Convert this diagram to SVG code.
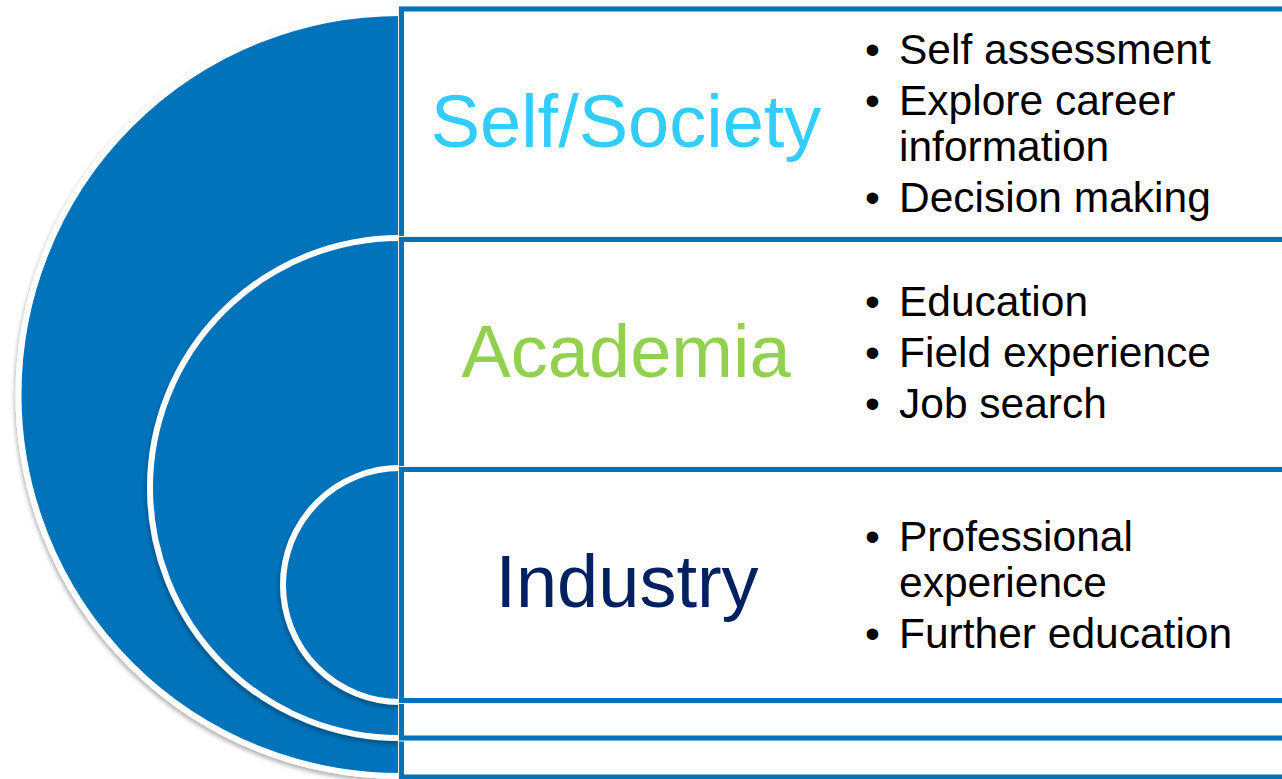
<svg xmlns="http://www.w3.org/2000/svg" width="1282" height="779" viewBox="0 0 1282 779">
  <defs>
    <filter id="shadow" x="-10%" y="-10%" width="120%" height="120%">
      <feDropShadow dx="-1" dy="3" stdDeviation="2" flood-color="#000" flood-opacity="0.3"/>
    </filter>
    <style>
      .disc { fill: #0173BA; }
      .rim { fill: none; stroke: #FFFFFF; stroke-width: 6; }
      .box-edge { fill: none; stroke: #E6F0F8; stroke-width: 7; }
      .box { fill: #FFFFFF; stroke: #0173BA; stroke-width: 5; }
      .title { font-family: "Liberation Sans", Arial, sans-serif; font-size: 74px; text-anchor: middle; }
      .item { font-family: "Liberation Sans", Arial, sans-serif; font-size: 42.5px; fill: #000000; }
    </style>
  </defs>
  <rect width="1282" height="779" fill="#FFFFFF"/>

  <!-- half discs, largest first -->
  <g id="disc-self" filter="url(#shadow)">
    <path class="disc" d="M400,13 A381.5,381.5 0 0 0 400,776 Z"/>
    <path class="rim" d="M400,13 A381.5,381.5 0 0 0 400,776"/>
  </g>
  <g id="disc-academia" filter="url(#shadow)">
    <path class="disc" d="M400,238 A250,250 0 0 0 400,738 Z"/>
    <path class="rim" d="M400,238 A250,250 0 0 0 400,738"/>
  </g>
  <g id="disc-industry" filter="url(#shadow)">
    <path class="disc" d="M400,468 A117,117 0 0 0 400,702 Z"/>
    <path class="rim" d="M400,468 A117,117 0 0 0 400,702"/>
  </g>

  <!-- Self/Society box -->
  <g id="box-self">
    <rect class="box-edge" x="401.5" y="9" width="900" height="768"/>
    <rect class="box" x="401.5" y="9" width="900" height="768"/>
    <text class="title" x="626" y="147" fill="#33CCFF">Self/Society</text>
    <text class="item" x="865" y="64">•</text>
    <text class="item" x="899" y="64">Self assessment</text>
    <text class="item" x="865" y="115">•</text>
    <text class="item" x="899" y="115">Explore career</text>
    <text class="item" x="899" y="161">information</text>
    <text class="item" x="865" y="212">•</text>
    <text class="item" x="899" y="212">Decision making</text>
  </g>

  <!-- Academia box -->
  <g id="box-academia">
    <rect class="box-edge" x="401.5" y="239.5" width="900" height="498.5"/>
    <rect class="box" x="401.5" y="239.5" width="900" height="498.5"/>
    <text class="title" x="626" y="377" fill="#92D050">Academia</text>
    <text class="item" x="865" y="316">•</text>
    <text class="item" x="899" y="316">Education</text>
    <text class="item" x="865" y="367">•</text>
    <text class="item" x="899" y="367">Field experience</text>
    <text class="item" x="865" y="418">•</text>
    <text class="item" x="899" y="418">Job search</text>
  </g>

  <!-- Industry box -->
  <g id="box-industry">
    <rect class="box-edge" x="401.5" y="469.5" width="900" height="231"/>
    <rect class="box" x="401.5" y="469.5" width="900" height="231"/>
    <text class="title" x="627" y="607" fill="#002060">Industry</text>
    <text class="item" x="865" y="551">•</text>
    <text class="item" x="899" y="551">Professional</text>
    <text class="item" x="899" y="597">experience</text>
    <text class="item" x="865" y="648">•</text>
    <text class="item" x="899" y="648">Further education</text>
  </g>

  <!-- no connectors in this figure -->
  <g id="connectors"/>
</svg>
